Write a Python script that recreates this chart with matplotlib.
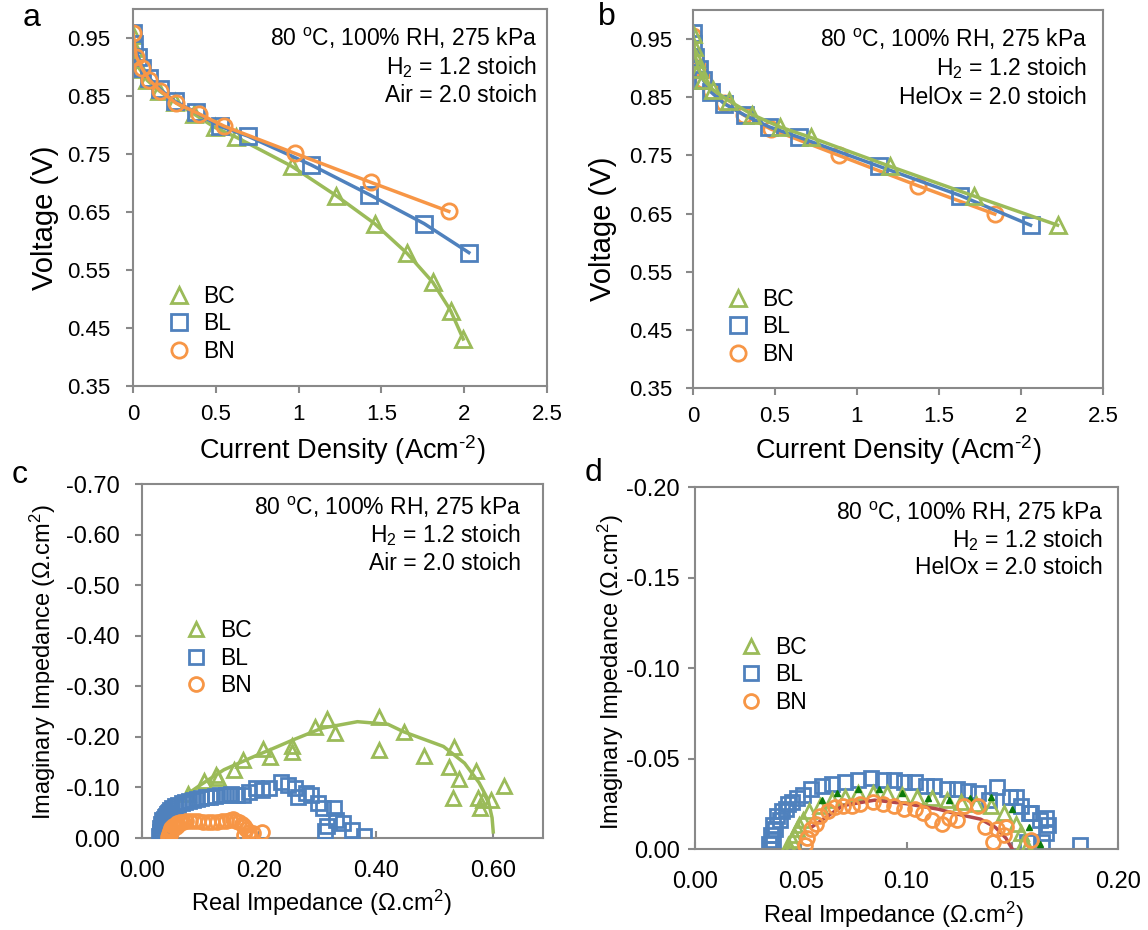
import matplotlib
matplotlib.use("Agg")
import matplotlib.pyplot as plt
from matplotlib.lines import Line2D

plt.rcParams['font.family'] = ['Liberation Sans', 'DejaVu Sans']
plt.rcParams['mathtext.fontset'] = 'custom'
plt.rcParams['mathtext.rm'] = 'Liberation Sans'
plt.rcParams['mathtext.it'] = 'Liberation Sans:italic'
plt.rcParams['mathtext.default'] = 'regular'

GREEN = '#9BBB59'
BLUE = '#4F81BD'
ORANGE = '#F79646'
GRAY = '#898989'
DKGREEN = '#0B7A0B'
DKRED = '#B5484B'

# =========================================================
# DATA
# =========================================================

series_names = ['BC', 'BL', 'BN']

# (a) polarisation, H2/Air
a_bc_j = [0.0, 0.004, 0.015, 0.039, 0.086, 0.158, 0.255, 0.368, 0.493, 0.623, 0.958, 1.228, 1.459, 1.654, 1.810, 1.918, 1.994]
a_bc_v = [0.956, 0.933, 0.914, 0.897, 0.877, 0.859, 0.839, 0.819, 0.796, 0.779, 0.729, 0.678, 0.630, 0.579, 0.529, 0.480, 0.431]
a_bl_j = [0.0, 0.006, 0.032, 0.054, 0.097, 0.162, 0.253, 0.378, 0.523, 0.692, 1.077, 1.427, 1.758, 2.028]
a_bl_v = [0.959, 0.939, 0.918, 0.898, 0.881, 0.862, 0.841, 0.822, 0.798, 0.781, 0.731, 0.680, 0.630, 0.580]
a_bn_j = [0.0, 0.020, 0.054, 0.097, 0.166, 0.259, 0.400, 0.551, 0.979, 1.438, 1.907]
a_bn_v = [0.959, 0.918, 0.898, 0.878, 0.859, 0.838, 0.819, 0.798, 0.751, 0.701, 0.651]

# (b) polarisation, H2/HelOx
b_bc_j = [0.0, 0.007, 0.018, 0.034, 0.064, 0.121, 0.218, 0.362, 0.529, 0.717, 1.203, 1.714, 2.223]
b_bc_v = [0.959, 0.936, 0.916, 0.899, 0.880, 0.863, 0.844, 0.820, 0.799, 0.781, 0.731, 0.680, 0.630]
b_bl_j = [0.0, 0.002, 0.011, 0.034, 0.064, 0.110, 0.190, 0.316, 0.465, 0.648, 1.137, 1.629, 2.058]
b_bl_v = [0.961, 0.941, 0.919, 0.899, 0.879, 0.859, 0.839, 0.819, 0.799, 0.781, 0.731, 0.681, 0.630]
b_bn_j = [0.0, 0.011, 0.030, 0.064, 0.110, 0.190, 0.312, 0.477, 0.889, 1.370, 1.840]
b_bn_v = [0.956, 0.920, 0.900, 0.880, 0.860, 0.840, 0.819, 0.795, 0.750, 0.698, 0.649]

# (c) impedance, H2/Air
c_bc_re = [0.079, 0.106, 0.126, 0.129, 0.158, 0.173, 0.206, 0.219, 0.257, 0.257, 0.296, 0.316, 0.330,
           0.404, 0.405, 0.447, 0.481, 0.524, 0.533, 0.532, 0.541, 0.570, 0.574, 0.578, 0.582, 0.597, 0.618]
c_bc_im = [-0.087, -0.112, -0.125, -0.118, -0.135, -0.155, -0.176, -0.161, -0.182, -0.171, -0.220, -0.235, -0.207,
           -0.240, -0.174, -0.209, -0.162, -0.141, -0.180, -0.080, -0.116, -0.132, -0.080, -0.059, -0.076, -0.076, -0.102]
c_bc_fit_re = [0.075, 0.100, 0.140, 0.185, 0.230, 0.258, 0.307, 0.368, 0.420, 0.447, 0.515, 0.551, 0.576, 0.591, 0.598, 0.600]
c_bc_fit_im = [-0.085, -0.105, -0.135, -0.158, -0.180, -0.194, -0.217, -0.230, -0.225, -0.210, -0.181, -0.148, -0.109, -0.076, -0.040, -0.012]
c_bl_re = [0.029, 0.030, 0.031, 0.033, 0.035, 0.039, 0.042, 0.046,
           0.030, 0.031, 0.032, 0.034, 0.036, 0.038, 0.041, 0.044, 0.048, 0.052, 0.057, 0.062, 0.068, 0.074,
           0.080, 0.087, 0.094, 0.101, 0.109, 0.117, 0.125, 0.134, 0.143, 0.152, 0.162, 0.172, 0.183, 0.194,
           0.205, 0.217, 0.237, 0.250, 0.261, 0.267, 0.280, 0.289, 0.301, 0.310, 0.316, 0.328, 0.313, 0.331,
           0.344, 0.359, 0.379]
c_bl_im = [-0.004, -0.012, -0.020, -0.028, -0.035, -0.041, -0.047, -0.052,
           -0.000, -0.008, -0.016, -0.024, -0.031, -0.038, -0.044, -0.050, -0.055, -0.059, -0.063, -0.066, -0.069, -0.072,
           -0.074, -0.076, -0.078, -0.080, -0.081, -0.082, -0.084, -0.085, -0.086, -0.087, -0.086, -0.085, -0.090, -0.099,
           -0.095, -0.099, -0.110, -0.104, -0.099, -0.082, -0.089, -0.086, -0.069, -0.059, -0.023, -0.059, -0.013, -0.036,
           -0.030, -0.016, -0.003]
c_bn_re = [0.047, 0.049, 0.052, 0.058, 0.062, 0.175, 0.185,
           0.045, 0.046, 0.048, 0.050, 0.053, 0.056, 0.060, 0.065, 0.070, 0.076, 0.082, 0.089, 0.096, 0.104, 0.112,
           0.120, 0.128, 0.136, 0.143, 0.150, 0.156, 0.160, 0.165, 0.170, 0.175, 0.178, 0.182, 0.185, 0.190, 0.205]
c_bn_im = [-0.005, -0.011, -0.016, -0.022, -0.026, -0.005, -0.002,
           -0.002, -0.008, -0.014, -0.019, -0.023, -0.026, -0.029, -0.031, -0.032, -0.033, -0.033, -0.034, -0.033, -0.032, -0.031,
           -0.031, -0.032, -0.033, -0.034, -0.036, -0.038, -0.034, -0.031, -0.028, -0.024, -0.018, -0.012, -0.004, -0.010, -0.012]

# (d) impedance, H2/HelOx
d_bc_re = [0.045, 0.046, 0.048, 0.051, 0.054, 0.059, 0.065, 0.071, 0.077, 0.084, 0.091, 0.098, 0.105, 0.112,
           0.119, 0.126, 0.133, 0.140, 0.146, 0.152, 0.154, 0.155, 0.157, 0.044, 0.047, 0.049]
d_bc_im = [0.000, -0.005, -0.011, -0.016, -0.021, -0.024, -0.027, -0.029, -0.031, -0.031, -0.031, -0.030, -0.029, -0.028,
           -0.027, -0.026, -0.025, -0.024, -0.020, -0.014, -0.009, -0.003, -0.001, -0.002, -0.008, -0.013]
d_bc_fit_re = [0.060, 0.067, 0.077, 0.087, 0.098, 0.110, 0.120, 0.130, 0.140, 0.150, 0.158, 0.163]
d_bc_fit_im = [-0.027, -0.031, -0.033, -0.033, -0.031, -0.028, -0.027, -0.028, -0.029, -0.022, -0.012, -0.003]
d_bl_re = [0.035, 0.036, 0.037, 0.039, 0.041, 0.044, 0.048,
           0.036, 0.037, 0.038, 0.040, 0.043, 0.046, 0.051, 0.055, 0.060, 0.065, 0.071, 0.077, 0.083, 0.089,
           0.094, 0.099, 0.104, 0.109, 0.113, 0.119, 0.124, 0.129, 0.134, 0.139, 0.143, 0.149, 0.154, 0.159,
           0.163, 0.167, 0.166, 0.164, 0.158, 0.166, 0.152, 0.157, 0.182]
d_bl_im = [-0.003, -0.008, -0.013, -0.018, -0.021, -0.025, -0.028,
           0.000, -0.005, -0.011, -0.016, -0.022, -0.026, -0.030, -0.033, -0.035, -0.036, -0.037, -0.038, -0.039, -0.038,
           -0.038, -0.037, -0.037, -0.035, -0.035, -0.033, -0.033, -0.032, -0.031, -0.027, -0.034, -0.029, -0.024, -0.020,
           -0.016, -0.013, -0.009, -0.004, -0.020, -0.017, -0.029, -0.004, -0.002]
d_bn_re = [0.052, 0.053, 0.055, 0.057, 0.059, 0.063, 0.066, 0.070, 0.074, 0.078, 0.084, 0.089, 0.094, 0.099,
           0.104, 0.108, 0.112, 0.117, 0.120, 0.124, 0.127, 0.134, 0.137, 0.141, 0.143, 0.146, 0.147, 0.159]
d_bn_im = [-0.002, -0.006, -0.011, -0.014, -0.018, -0.021, -0.023, -0.024, -0.024, -0.025, -0.026, -0.025, -0.024, -0.022,
           -0.022, -0.020, -0.016, -0.014, -0.017, -0.016, -0.024, -0.024, -0.012, -0.004, -0.011, -0.008, -0.012, -0.005]
d_bn_fit_re = [0.055, 0.070, 0.085, 0.100, 0.115, 0.125, 0.135, 0.142, 0.147, 0.150]
d_bn_fit_im = [-0.012, -0.024, -0.027, -0.025, -0.022, -0.019, -0.0165, -0.012, -0.006, 0.000]

notes_air = ['80 $^{o}$C, 100% RH, 275 kPa', 'H$_{2}$ = 1.2 stoich', 'Air = 2.0 stoich']
notes_helox = ['80 $^{o}$C, 100% RH, 275 kPa', 'H$_{2}$ = 1.2 stoich', 'HelOx = 2.0 stoich']

pol_xticks = [0, 0.5, 1, 1.5, 2, 2.5]
pol_xlabels = ['0', '0.5', '1', '1.5', '2', '2.5']
pol_yticks = [0.35, 0.45, 0.55, 0.65, 0.75, 0.85, 0.95]
pol_ylabels = ['0.35', '0.45', '0.55', '0.65', '0.75', '0.85', '0.95']
c_xticks = [0.0, 0.2, 0.4, 0.6]
c_xlabels = ['0.00', '0.20', '0.40', '0.60']
c_yticks = [0.0, -0.1, -0.2, -0.3, -0.4, -0.5, -0.6, -0.7]
c_ylabels = ['0.00', '-0.10', '-0.20', '-0.30', '-0.40', '-0.50', '-0.60', '-0.70']
d_xticks = [0.0, 0.05, 0.10, 0.15, 0.20]
d_xlabels = ['0.00', '0.05', '0.10', '0.15', '0.20']
d_yticks = [0.0, -0.05, -0.10, -0.15, -0.20]
d_ylabels = ['0.00', '-0.05', '-0.10', '-0.15', '-0.20']

pol_xtitle = 'Current Density (Acm$^{\u20102}$)'
pol_ytitle = 'Voltage (V)'
eis_xtitle = 'Real Impedance (Ω.cm$^{2}$)'
eis_ytitle = 'Imaginary Impedance (Ω.cm$^{2}$)'

# =========================================================
# FIGURE
# =========================================================

W, H = 1148, 930
fig = plt.figure(figsize=(W / 100, H / 100), dpi=100)


def box(left, top, right, bottom):
    # pixel box -> figure fraction
    return [left / W, 1 - bottom / H, (right - left) / W, (bottom - top) / H]


def px(x, y):
    return x / W, 1 - y / H


ax_a = fig.add_axes(box(133, 9, 547, 386))
ax_b = fig.add_axes(box(693, 10, 1103, 388))
ax_c = fig.add_axes(box(142, 484, 543, 838))
ax_d = fig.add_axes(box(695, 487, 1118, 849))


def style(ax, xticks, xlabels, yticks, ylabels, size, xdir, xpad, ypad):
    for s in ax.spines.values():
        s.set_color(GRAY)
        s.set_linewidth(1.5)
    ax.set_xticks(xticks)
    ax.set_xticklabels(xlabels)
    ax.set_yticks(yticks)
    ax.set_yticklabels(ylabels)
    ax.tick_params(axis='both', colors=GRAY, labelcolor='black', labelsize=size,
                   width=1.5, length=5)
    ax.tick_params(axis='x', direction=xdir, pad=xpad)
    ax.tick_params(axis='y', direction='out', pad=ypad)


def legend(ax, x, y, ms):
    handles = [
        Line2D([], [], ls='none', marker='^', ms=ms, mfc='none', mec=GREEN, mew=2),
        Line2D([], [], ls='none', marker='s', ms=ms, mfc='none', mec=BLUE, mew=2),
        Line2D([], [], ls='none', marker='o', ms=ms, mfc='none', mec=ORANGE, mew=2),
    ]
    ax.legend(handles, series_names, loc='center left', bbox_to_anchor=(x, y),
              frameon=False, fontsize=16.5, handlelength=1.0, handletextpad=0.55,
              labelspacing=0.2, borderpad=0, borderaxespad=0)


def notes(lines, right, ys):
    for t, y in zip(lines, ys):
        fig.text(*px(right, y), t, ha='right', va='center', fontsize=16.5)


def pol(ax, j, v, color, marker):
    ax.plot(j, v, color=color, lw=2.5, marker=marker, ms=11, mfc='none', mec=color, mew=2)


# ---- (a) ----
pol(ax_a, a_bc_j, a_bc_v, GREEN, '^')
pol(ax_a, a_bl_j, a_bl_v, BLUE, 's')
pol(ax_a, a_bn_j, a_bn_v, ORANGE, 'o')
ax_a.set_xlim(0, 2.5)
ax_a.set_ylim(0.35, 1.0)
style(ax_a, pol_xticks, pol_xlabels, pol_yticks, pol_ylabels, 16, 'out', 8, 11.5)
legend(ax_a, 0.0845, 0.165, 11)
ax_a.set_ylabel(pol_ytitle, fontsize=21, va='center')
ax_a.yaxis.set_label_coords(-0.213, 0.445)
ax_a.set_xlabel(pol_xtitle, fontsize=19.5, va='center')
ax_a.xaxis.set_label_coords(0.505, -0.17)

# ---- (b) ----
pol(ax_b, b_bn_j, b_bn_v, ORANGE, 'o')
pol(ax_b, b_bl_j, b_bl_v, BLUE, 's')
pol(ax_b, b_bc_j, b_bc_v, GREEN, '^')
ax_b.set_xlim(0, 2.5)
ax_b.set_ylim(0.35, 1.0)
style(ax_b, pol_xticks, pol_xlabels, pol_yticks, pol_ylabels, 16, 'out', 8, 10)
legend(ax_b, 0.083, 0.162, 11)
ax_b.set_ylabel(pol_ytitle, fontsize=21, va='center')
ax_b.yaxis.set_label_coords(-0.22, 0.42)
ax_b.set_xlabel(pol_xtitle, fontsize=19.5, va='center')
ax_b.xaxis.set_label_coords(0.5, -0.163)

# ---- (c) ----
ax_c.plot(c_bc_re, c_bc_im, ls='none', marker='^', ms=10, mfc='none', mec=GREEN, mew=2, zorder=2)
ax_c.plot(c_bc_fit_re, c_bc_fit_im, color=GREEN, lw=2.5, zorder=2)
ax_c.plot(c_bl_re, c_bl_im, ls='none', marker='s', ms=10, mfc='none', mec=BLUE, mew=2, zorder=3)
ax_c.plot(c_bn_re, c_bn_im, ls='none', marker='o', ms=10, mfc='none', mec=ORANGE, mew=2, zorder=4)
ax_c.set_xlim(0, 0.685)
ax_c.set_ylim(0, -0.7)
style(ax_c, c_xticks, c_xlabels, c_yticks, c_ylabels, 17, 'in', 16, 11)
legend(ax_c, 0.105, 0.508, 10)
ax_c.set_ylabel(eis_ytitle, fontsize=17, va='center')
ax_c.yaxis.set_label_coords(-0.247, 0.497)
ax_c.set_xlabel(eis_xtitle, fontsize=17, va='center')
ax_c.xaxis.set_label_coords(0.447, -0.184)

# ---- (d) ----
ax_d.plot(d_bl_re, d_bl_im, ls='none', marker='s', ms=10, mfc='none', mec=BLUE, mew=2, zorder=2)
ax_d.plot(d_bc_re, d_bc_im, ls='none', marker='^', ms=10, mfc='none', mec=GREEN, mew=2, zorder=3)
ax_d.plot(d_bc_fit_re, d_bc_fit_im, ls='none', marker='^', ms=4, color=DKGREEN, zorder=3)
ax_d.plot(d_bn_fit_re, d_bn_fit_im, color=DKRED, lw=2.5, zorder=3)
ax_d.plot(d_bn_re, d_bn_im, ls='none', marker='o', ms=10, mfc='none', mec=ORANGE, mew=2, zorder=4)
ax_d.set_xlim(0, 0.2)
ax_d.set_ylim(0, -0.2)
style(ax_d, d_xticks, d_xlabels, d_yticks, d_ylabels, 17, 'in', 16, 6)
legend(ax_d, 0.106, 0.481, 10)
ax_d.set_ylabel(eis_ytitle, fontsize=17, va='center')
ax_d.yaxis.set_label_coords(-0.20, 0.489)
ax_d.set_xlabel(eis_xtitle, fontsize=17, va='center')
ax_d.xaxis.set_label_coords(0.468, -0.182)

# ---- condition notes + panel letters ----
notes(notes_air, 537, [38, 67, 95])
notes(notes_helox, 1087, [39, 68, 97])
notes(notes_air, 521, [507, 535, 563])
notes(notes_helox, 1103, [512, 540, 568])

for letter, (x, y) in zip('abcd', [(32, 18), (607, 17), (20, 475), (594, 473)]):
    fig.text(*px(x, y), letter, ha='center', va='center', fontsize=23)

fig.savefig('out.png', dpi=100)
